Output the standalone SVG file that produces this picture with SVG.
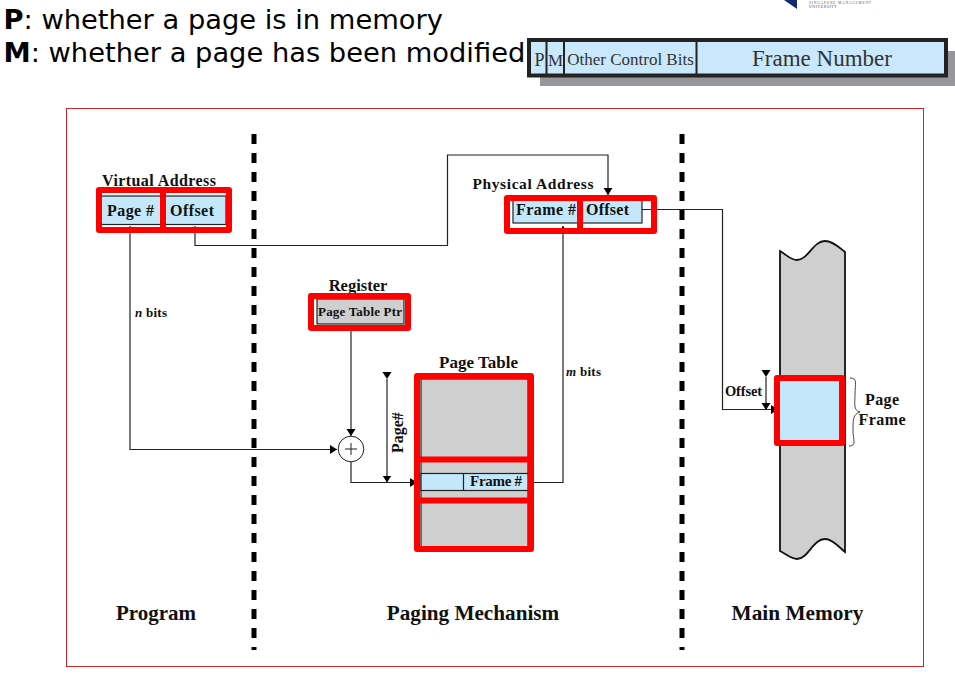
<svg xmlns="http://www.w3.org/2000/svg" width="955" height="678" viewBox="0 0 955 678">
<style>
.h{font-family:"DejaVu Sans",sans-serif;font-size:27.300px;fill:#000}
.s{font-family:"Liberation Serif",serif;font-weight:700;fill:#111}
.t{font-family:"Liberation Serif",serif;fill:#333}
.red{fill:none;stroke:#f00;stroke-width:6;stroke-linejoin:round}
.ln{fill:none;stroke:#222;stroke-width:1.2}
.dash{fill:none;stroke:#000;stroke-width:5;stroke-dasharray:10 9}
.blue{fill:#c4e8fa}
.gray{fill:#cfcfcf}
.box{stroke:#222;stroke-width:1.2}
</style>
<defs>
<marker id="a" markerWidth="9" markerHeight="10" refX="7" refY="4.500" orient="auto" markerUnits="userSpaceOnUse"><path d="M0 0L7 4.500L0 9z" fill="#000"/></marker>
</defs>
<rect width="955" height="678" fill="#fff"/>
<g id="caption">
<text class="h" x="3.500" y="29"><tspan font-weight="700">P</tspan>: whether a page is in memory</text>
<text class="h" x="3.500" y="62"><tspan font-weight="700">M</tspan>: whether a page has been modified</text>
</g>
<g id="logo">
<path d="M784 0H797V9z" fill="#14296e"/>
<text x="809" y="3.500" font-family="Liberation Serif,serif" font-size="3.500" fill="#556" textLength="62">SINGAPORE MANAGEMENT</text>
<text x="809" y="7.500" font-family="Liberation Serif,serif" font-size="4" fill="#556" textLength="28">UNIVERSITY</text>
</g>
<g id="entry-format">
<rect x="540" y="51" width="415" height="35" fill="#97979b"/>
<rect x="529" y="40" width="417" height="35.500" fill="#c9e8fb" stroke="#222" stroke-width="4"/>
<path d="M546.500 40V76M564 40V76M696.500 40V76" stroke="#222" stroke-width="2" fill="none"/>
<text class="t" x="539.500" y="66" font-size="18" text-anchor="middle">P</text>
<text class="t" x="555.500" y="66" font-size="17" text-anchor="middle">M</text>
<text class="t" x="630.500" y="65" font-size="17" text-anchor="middle">Other Control Bits</text>
<text class="t" x="822" y="66" font-size="23" text-anchor="middle">Frame Number</text>
</g>
<rect id="frame" x="66.500" y="108.500" width="857" height="558" fill="none" stroke="#c8282d" stroke-width="1"/>
<g id="dividers">
<path class="dash" d="M254 134V650"/>
<path class="dash" d="M682 134V650"/>
</g>
<g id="connectors">
<path class="ln" d="M130 226V449.500H337" marker-end="url(#a)"/>
<path class="ln" d="M195 226V245.500H447.500V155H608V195" marker-end="url(#a)"/>
<path class="ln" d="M351 325V436" marker-end="url(#a)"/>
<path class="ln" d="M351 462V482.500H417" marker-end="url(#a)"/>
<path class="ln" d="M534 482.500H563V226" marker-end="url(#a)"/>
<path class="ln" d="M642 209.500H722.500V409.500H778" marker-end="url(#a)"/>
<path class="ln" d="M387 379V482.500" marker-start="url(#a)" marker-end="url(#a)"/>
<path class="ln" d="M766 377V410" marker-start="url(#a)" marker-end="url(#a)"/>
</g>
<g id="virtual-address">
<text class="s" x="159" y="186" font-size="16" text-anchor="middle" textLength="114">Virtual Address</text>
<rect class="blue box" x="101" y="196" width="125" height="28.500"/>
<rect class="red" x="99" y="190" width="64" height="40"/>
<rect class="red" x="163" y="190" width="66" height="40"/>
<text class="s" x="107" y="216" font-size="16" textLength="47">Page #</text>
<text class="s" x="170" y="216" font-size="16" textLength="44">Offset</text>
</g>
<text id="n-bits" class="s" x="135" y="317" font-size="13" textLength="32"><tspan font-style="italic">n</tspan> bits</text>
<g id="register">
<text class="s" x="358" y="291" font-size="16.500" text-anchor="middle">Register</text>
<rect class="gray box" x="317" y="299" width="87" height="25"/>
<rect class="red" x="311" y="296" width="97" height="32"/>
<text class="s" x="360" y="315.500" font-size="13" text-anchor="middle" textLength="84">Page Table Ptr</text>
</g>
<g id="adder">
<circle cx="351" cy="449" r="12.800" fill="#fff" stroke="#222" stroke-width="1"/>
<path d="M345 449H357M351 443V455" stroke="#222" stroke-width="1"/>
</g>
<text id="page-num" class="s" transform="translate(403 453) rotate(-90)" font-size="16">Page#</text>
<g id="page-table">
<text class="s" x="478.500" y="368" font-size="17" text-anchor="middle">Page Table</text>
<rect class="gray box" x="421" y="379" width="107" height="168"/>
<rect class="blue box" x="421" y="473.500" width="107" height="17"/>
<path d="M463.500 473.500V490.500" class="ln"/>
<rect class="red" x="417" y="376" width="114" height="173"/>
<rect class="red" x="417" y="459.500" width="114" height="41"/>
<text class="s" x="470" y="486" font-size="15" textLength="52">Frame #</text>
</g>
<text id="m-bits" class="s" x="566" y="376" font-size="13" textLength="35"><tspan font-style="italic">m</tspan> bits</text>
<g id="physical-address">
<text class="s" x="533" y="189" font-size="15.500" text-anchor="middle" textLength="121">Physical Address</text>
<rect class="blue box" x="513" y="199" width="129" height="24"/>
<rect class="red" x="507" y="198" width="73" height="33"/>
<rect class="red" x="580" y="198" width="74" height="33"/>
<text class="s" x="516" y="215" font-size="16" textLength="60">Frame #</text>
<text class="s" x="586" y="215" font-size="16" textLength="43">Offset</text>
</g>
<g id="main-memory">
<path class="gray" stroke="#111" stroke-width="1.800" d="M780 251C788 256 791 260 797 260C808 260 813 241 825 241C833 241 840 248 845 252V552C840 548 833 539 825 539C813 539 808 559 797 559C791 559 788 555 780 551z"/>
<rect class="blue" x="780" y="380" width="60" height="61"/>
<rect class="red" x="777" y="378" width="65" height="65"/>
<path d="M850 378C858 378 855 384 855 394C855 404 853 410 860 412C853 414 853 420 853 430C853 440 857 446 849 446" fill="none" stroke="#333" stroke-width="0.900"/>
<text class="s" x="882" y="405" font-size="16" text-anchor="middle" textLength="34">Page</text>
<text class="s" x="882" y="425" font-size="16" text-anchor="middle" textLength="47">Frame</text>
<text class="s" x="743.500" y="396" font-size="14.500" text-anchor="middle" textLength="37">Offset</text>
</g>
<g id="labels">
<text class="s" x="156" y="620" font-size="21" text-anchor="middle">Program</text>
<text class="s" x="473" y="620" font-size="21.200" text-anchor="middle">Paging Mechanism</text>
<text class="s" x="797.500" y="620" font-size="21.300" text-anchor="middle">Main Memory</text>
</g>
</svg>
